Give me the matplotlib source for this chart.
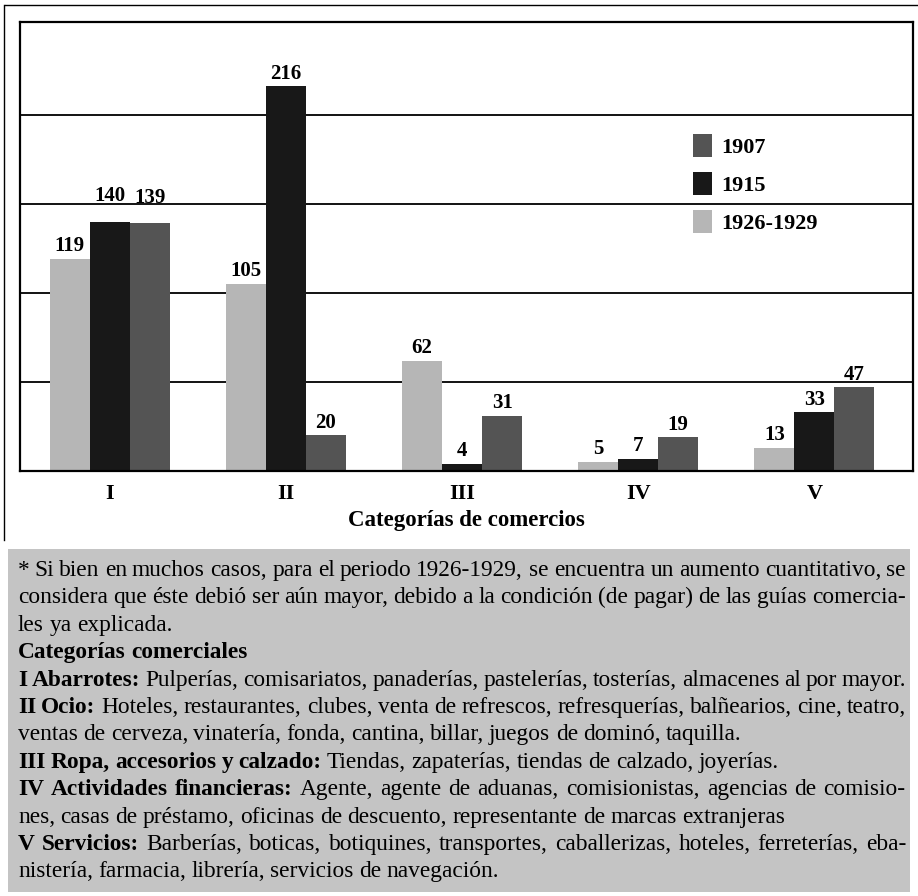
import matplotlib
matplotlib.use("Agg")
import matplotlib.pyplot as plt
from matplotlib.patches import Patch, Rectangle
from matplotlib.lines import Line2D
import numpy as np

plt.rcParams['font.family'] = ['Liberation Serif', 'DejaVu Serif']

# datos
categorias = ["I", "II", "III", "IV", "V"]
series = ["1926-1929", "1915", "1907"]
v_1926_1929 = [119, 105, 62, 5, 13]
v_1915 = [140, 216, 4, 7, 33]
v_1907 = [139, 20, 31, 19, 47]
colores = {"1926-1929": "#b6b6b6", "1915": "#181818", "1907": "#545454"}

titulo_x = "Categorías de comercios"

# nota al pie: (segmentos (texto, negrita), justificada)
nota = [
    ([("* Si bien en muchos casos, para el periodo 1926-1929, se encuentra un aumento cuantitativo, se", False)], True),
    ([("considera que éste debió ser aún mayor, debido a la condición (de pagar) de las guías comercia-", False)], True),
    ([("les ya explicada.", False)], False),
    ([("Categorías comerciales", True)], False),
    ([("I Abarrotes:", True), ("Pulperías, comisariatos, panaderías, pastelerías, tosterías, almacenes al por mayor.", False)], True),
    ([("II Ocio:", True), ("Hoteles, restaurantes, clubes, venta de refrescos, refresquerías, balñearios, cine, teatro,", False)], True),
    ([("ventas de cerveza, vinatería, fonda, cantina, billar, juegos de dominó, taquilla.", False)], False),
    ([("III Ropa, accesorios y calzado:", True), ("Tiendas, zapaterías, tiendas de calzado, joyerías.", False)], False),
    ([("IV Actividades financieras:", True), ("Agente, agente de aduanas, comisionistas, agencias de comisio-", False)], True),
    ([("nes, casas de préstamo, oficinas de descuento, representante de marcas extranjeras", False)], False),
    ([("V Servicios:", True), ("Barberías, boticas, botiquines, transportes, caballerizas, hoteles, ferreterías, eba-", False)], True),
    ([("nistería, farmacia, librería, servicios de navegación.", False)], False),
]

W, H = 918, 896
fig = plt.figure(figsize=(W / 100, H / 100), dpi=100)

# marco exterior (recorte del escaneo)
fig.add_artist(Line2D([5 / W, 1], [1 - 5 / H, 1 - 5 / H], color='black', lw=1))
fig.add_artist(Line2D([4 / W, 4 / W], [1 - 5 / H, 1 - 540 / H], color='black', lw=1))

ax = fig.add_axes([20 / W, 1 - 471 / H, 893 / W, 449 / H])
x = np.arange(len(categorias))
w = 0.227
valores = [v_1926_1929, v_1915, v_1907]
extra = {(1, 0): 15, (2, 0): 15}  # etiquetas elevadas en el grupo I
for i, (nombre, vals) in enumerate(zip(series, valores)):
    barras = ax.bar(x + (i - 1) * w, vals, w, color=colores[nombre], zorder=2)
    for j, (b, v) in enumerate(zip(barras, vals)):
        ax.annotate(str(v), (b.get_x() + b.get_width() / 2, v),
                    xytext=(0, extra.get((i, j), 5.5)), textcoords='offset points',
                    ha='center', va='baseline', fontsize=15, fontweight='bold')

ax.set_xlim(-0.51, 4.56)
ax.set_ylim(0, 252)
ax.set_yticks([50, 100, 150, 200])
ax.yaxis.grid(True, color='black', lw=1.3)
ax.set_axisbelow(True)
ax.tick_params(axis='y', length=0, labelleft=False)
ax.set_xticks(x)
ax.set_xticklabels(categorias, fontsize=16, fontweight='bold')
ax.tick_params(axis='x', length=0, pad=9)
for s in ax.spines.values():
    s.set_linewidth(1.6)
    s.set_color('black')

handles = [Patch(facecolor=colores[n], edgecolor='none') for n in series[::-1]]
ax.legend(handles, series[::-1], loc='upper left', bbox_to_anchor=((693 - 20) / 893, (471 - 134) / 449),
          frameon=False, borderpad=0, borderaxespad=0, handlelength=0.87, handleheight=1.2,
          handletextpad=0.4, labelspacing=0.63, prop={'size': 16, 'weight': 'bold'})

fig.text(466 / W, 1 - 520 / H, titulo_x, ha='center', va='center', fontsize=16.5, fontweight='bold')

# recuadro gris de la nota
fig.add_artist(Rectangle((8 / W, 1 - 892 / H), 902 / W, 343 / H, transform=fig.transFigure,
                         facecolor='#c4c4c4', edgecolor='none', zorder=0))

renderer = fig.canvas.get_renderer()


def ancho(s, bold, fs):
    t = fig.text(0, 0, s, fontsize=fs, fontweight='bold' if bold else 'normal')
    wpx = t.get_window_extent(renderer).width
    t.remove()
    return wpx


x_izq, x_der = 18, 906
fs0 = 14
lineas = []
for segs, just in nota:
    palabras = []
    for txt, bold in segs:
        palabras += [(p, bold) for p in txt.split(' ')]
    anchos = [ancho(p, b, fs0) for p, b in palabras]
    lineas.append((palabras, anchos, just))
esp0 = ancho('a a', False, fs0) - ancho('aa', False, fs0)
# tamaño para que las lineas justificadas quepan con espacios casi normales
escala = min((x_der - x_izq) / (sum(a) + 0.8 * esp0 * (len(a) - 1)) for _, a, j in lineas if j)
fs = fs0 * escala

for k, (palabras, anchos, just) in enumerate(lineas):
    anchos = [a * escala for a in anchos]
    if just and len(palabras) > 1:
        hueco = (x_der - x_izq - sum(anchos)) / (len(palabras) - 1)
    else:
        hueco = 0.9 * esp0 * escala
    y = 576 + 27.4 * k
    xp = x_izq
    for (p, bold), a in zip(palabras, anchos):
        fig.text(xp / W, 1 - y / H, p, fontsize=fs, fontweight='bold' if bold else 'normal',
                 ha='left', va='baseline')
        xp += a + hueco

fig.savefig('out.png', dpi=100)
